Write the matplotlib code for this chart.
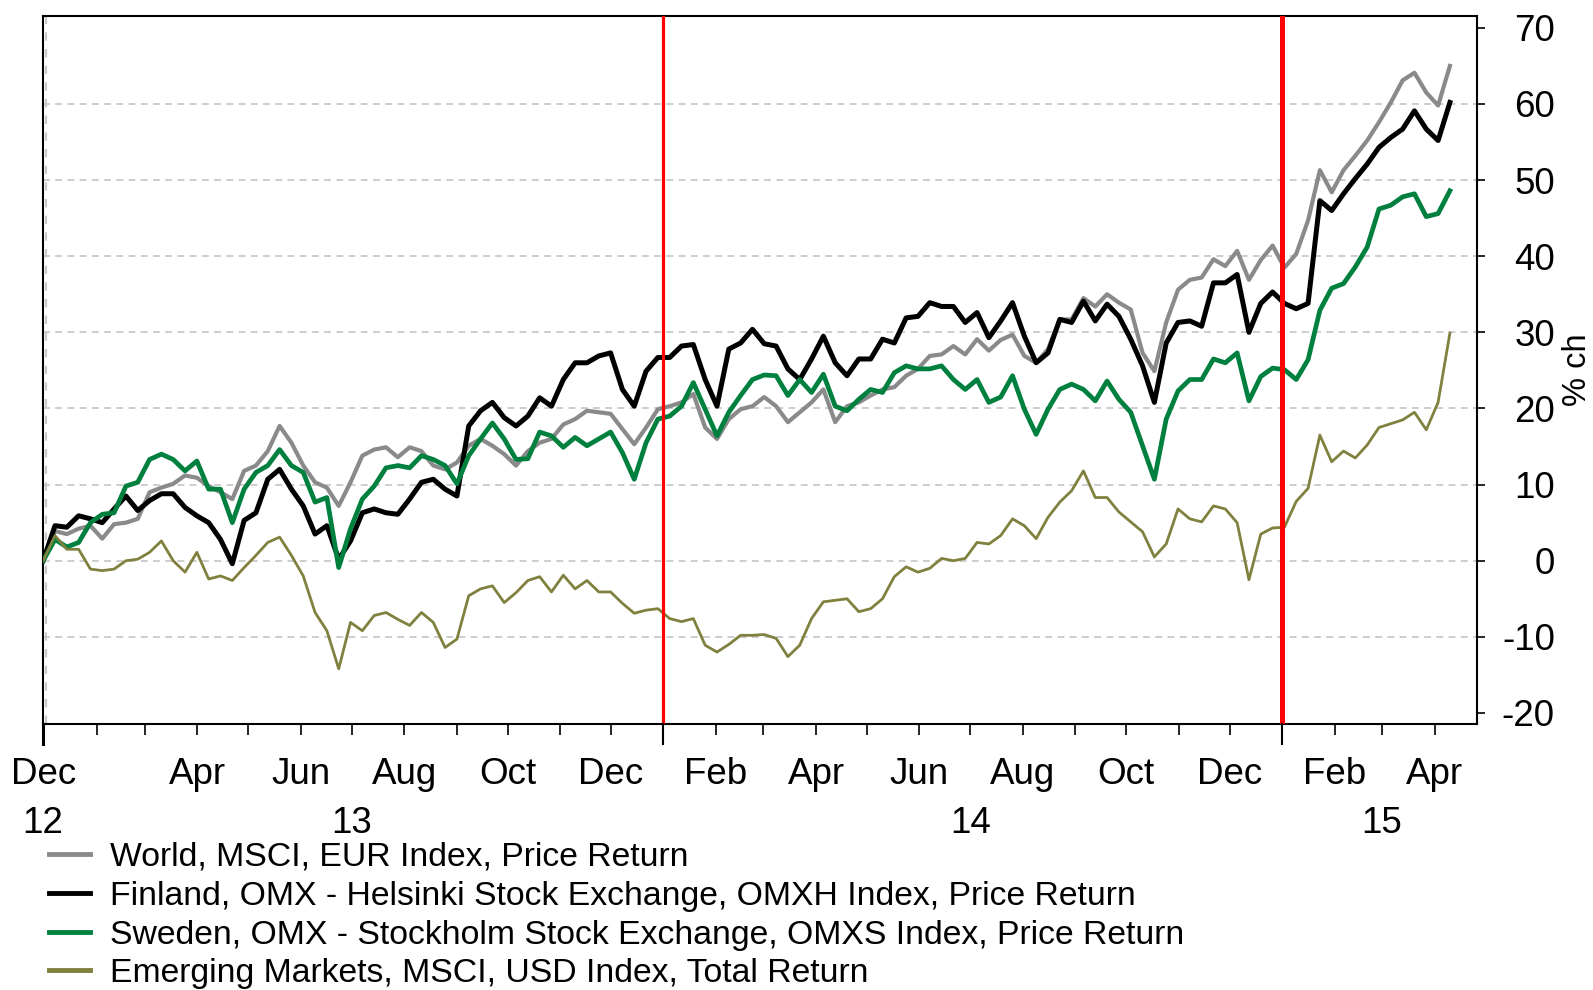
import pandas as pd
import matplotlib
matplotlib.use('Agg')
import matplotlib.pyplot as plt
from matplotlib.transforms import blended_transform_factory

plt.rcParams['font.family'] = ['Liberation Sans', 'DejaVu Sans']

# % change since start, read off the chart roughly once a week
world = [0, 3.9, 3.5, 4.2, 4.6, 2.9, 4.8, 5.0, 5.5, 9.0,
         9.6, 10.1, 11.2, 10.9, 9.8, 9.0, 8.1, 11.8, 12.5, 14.4,
         17.7, 15.5, 12.5, 10.3, 9.6, 7.2, 10.3, 13.8, 14.6, 14.9,
         13.6, 14.9, 14.4, 12.5, 12.0, 12.9, 15.1, 16.0, 15.1, 14.0,
         12.5, 14.4, 15.5, 16.0, 17.9, 18.6, 19.7, 19.5, 19.3, 17.3,
         15.3, 17.5, 19.9, 20.3, 20.8, 21.9, 17.5, 16.0, 18.6, 19.9,
         20.3, 21.5, 20.3, 18.2, 19.5, 20.8, 22.5, 18.2, 20.3, 20.8,
         21.7, 22.5, 22.8, 24.3, 25.2, 26.9, 27.1, 28.2, 27.1, 29.1,
         27.6, 29.0, 29.7, 26.9, 26.0, 27.8, 31.7, 31.7, 34.5, 33.4,
         35.0, 33.9, 33.0, 27.3, 24.9, 31.3, 35.6, 36.9, 37.2, 39.6,
         38.7, 40.7, 36.9, 39.5, 41.4, 38.5, 40.3, 44.7, 51.3, 48.4,
         51.3, 53.2, 55.2, 57.6, 60.2, 63.1, 64.1, 61.5, 59.8, 65.0]

finland = [0, 4.6, 4.4, 5.9, 5.5, 5.0, 6.8, 8.5, 6.6, 7.9,
           8.8, 8.8, 7.0, 5.9, 5.0, 2.8, -0.4, 5.3, 6.3, 10.7,
           12.0, 9.4, 7.2, 3.5, 4.6, 0.2, 2.6, 6.3, 6.8, 6.3,
           6.1, 8.1, 10.3, 10.7, 9.4, 8.5, 17.7, 19.7, 20.8, 18.8,
           17.7, 19.0, 21.4, 20.3, 23.8, 26.0, 26.0, 26.9, 27.3, 22.5,
           20.3, 24.9, 26.7, 26.7, 28.2, 28.4, 23.8, 20.3, 27.8, 28.6,
           30.4, 28.5, 28.2, 25.2, 23.8, 26.5, 29.5, 26.0, 24.3, 26.5,
           26.5, 29.1, 28.6, 31.9, 32.1, 33.9, 33.4, 33.4, 31.3, 32.6,
           29.3, 31.5, 33.9, 29.5, 26.0, 27.3, 31.7, 31.3, 34.1, 31.5,
           33.7, 32.1, 29.1, 25.6, 20.8, 28.6, 31.3, 31.5, 30.8, 36.5,
           36.5, 37.6, 30.0, 33.8, 35.3, 33.8, 33.1, 33.8, 47.3, 46.0,
           48.2, 50.2, 52.1, 54.3, 55.6, 56.7, 59.1, 56.7, 55.2, 60.2]

sweden = [0, 2.8, 1.8, 2.4, 5.0, 6.1, 6.3, 9.8, 10.3, 13.3,
          14.0, 13.3, 11.8, 13.1, 9.4, 9.4, 5.0, 9.4, 11.6, 12.5,
          14.6, 12.5, 11.6, 7.7, 8.3, -0.9, 4.2, 8.1, 9.8, 12.2,
          12.5, 12.2, 13.8, 13.3, 12.5, 10.1, 13.8, 16.0, 18.1, 16.0,
          13.3, 13.4, 16.9, 16.4, 14.9, 16.2, 15.1, 16.0, 16.9, 14.2,
          10.7, 15.5, 18.6, 19.0, 20.3, 23.4, 19.9, 16.4, 19.5, 21.7,
          23.8, 24.4, 24.3, 21.7, 23.8, 22.1, 24.5, 20.3, 19.7, 21.2,
          22.5, 22.1, 24.7, 25.6, 25.2, 25.2, 25.6, 23.8, 22.5, 23.8,
          20.8, 21.5, 24.3, 19.9, 16.6, 19.9, 22.5, 23.2, 22.5, 21.0,
          23.6, 21.2, 19.5, 15.1, 10.7, 18.6, 22.3, 23.8, 23.8, 26.5,
          26.0, 27.3, 21.0, 24.2, 25.3, 25.1, 23.8, 26.4, 32.9, 35.8,
          36.4, 38.6, 41.2, 46.2, 46.7, 47.8, 48.2, 45.2, 45.6, 48.6]

emerging = [0, 3.3, 1.5, 1.5, -1.1, -1.3, -1.1, 0.0, 0.2, 1.1,
            2.6, 0.0, -1.5, 1.1, -2.4, -2.0, -2.6, -0.9, 0.7, 2.4,
            3.1, 0.7, -2.0, -6.8, -9.2, -14.2, -8.1, -9.2, -7.2, -6.8,
            -7.7, -8.5, -6.8, -8.1, -11.4, -10.3, -4.6, -3.7, -3.3, -5.5,
            -4.2, -2.6, -2.1, -4.1, -1.9, -3.7, -2.6, -4.1, -4.1, -5.6,
            -6.9, -6.5, -6.3, -7.6, -8.0, -7.6, -11.1, -12.0, -11.0, -9.8,
            -9.8, -9.7, -10.2, -12.6, -11.1, -7.6, -5.4, -5.2, -5.0, -6.7,
            -6.3, -5.0, -2.1, -0.8, -1.5, -1.0, 0.3, 0.0, 0.3, 2.4,
            2.2, 3.3, 5.5, 4.6, 2.9, 5.7, 7.7, 9.2, 11.8, 8.3,
            8.3, 6.4, 5.1, 3.8, 0.5, 2.2, 6.8, 5.5, 5.1, 7.2,
            6.8, 5.0, -2.5, 3.5, 4.3, 4.4, 7.8, 9.5, 16.5, 13.0,
            14.4, 13.5, 15.2, 17.5, 18.0, 18.5, 19.5, 17.2, 20.8, 29.9]

dates = pd.date_range('2012-12-31', '2015-04-10', periods=len(world))

series = [world, finland, sweden, emerging]
labels = ['World, MSCI, EUR Index, Price Return',
          'Finland, OMX - Helsinki Stock Exchange, OMXH Index, Price Return',
          'Sweden, OMX - Stockholm Stock Exchange, OMXS Index, Price Return',
          'Emerging Markets, MSCI, USD Index, Total Return']
colors = ['#8a8a8a', '#000000', '#00803f', '#80803f']
widths = [3.0, 3.6, 3.4, 2.0]

month_ticks = ['2012-12-31', '2013-04-01', '2013-06-01', '2013-08-01', '2013-10-01',
               '2013-12-01', '2014-02-01', '2014-04-01', '2014-06-01', '2014-08-01',
               '2014-10-01', '2014-12-01', '2015-02-01', '2015-04-01']
month_labels = ['Dec', 'Apr', 'Jun', 'Aug', 'Oct', 'Dec', 'Feb', 'Apr', 'Jun', 'Aug',
                'Oct', 'Dec', 'Feb', 'Apr']
year_pos = ['2012-12-31', '2013-07-01', '2014-07-01', '2015-03-01']
year_labels = ['12', '13', '14', '15']
year_starts = ['2012-12-31', '2014-01-01', '2015-01-01']
event_dates = ['2014-01-01', '2015-01-01']
event_widths = [2.3, 3.6]

y_ticks = list(range(-20, 71, 10))
grid_levels = list(range(-10, 61, 10))

fig = plt.figure(figsize=(15.93, 9.9), dpi=100)
ax = fig.add_axes([0.0271, 0.2683, 0.9001, 0.7151])

for lvl in grid_levels:
    ax.axhline(lvl, color='#c0c0c0', lw=1.1, dashes=(4.5, 3.5), zorder=1)
ax.axvline(pd.Timestamp('2012-12-31') + pd.Timedelta(days=1.5), color='#c8c8c8',
           lw=1.5, dashes=(4, 4), zorder=1)

for vals, lab, c, w in zip(series, labels, colors, widths):
    ax.plot(dates, vals, color=c, lw=w, label=lab, zorder=3)

for d, w in zip(event_dates, event_widths):
    ax.axvline(pd.Timestamp(d), color='#ff0000', lw=w, zorder=4)

ax.set_xlim(pd.Timestamp('2012-12-31'), pd.Timestamp('2015-04-26'))
ax.set_ylim(-21.5, 71.5)

for s in ax.spines.values():
    s.set_linewidth(1.5)
    s.set_color('black')

# y axis on the right
ax.yaxis.tick_right()
ax.set_yticks(y_ticks)
ax.set_yticklabels([str(v) for v in y_ticks], ha='right')
ax.tick_params(axis='y', direction='out', length=6, width=1.2, labelsize=26.5, pad=50)

# monthly minor ticks, labelled months as majors
months = pd.date_range('2013-02-01', '2015-04-01', freq='MS')
ax.set_xticks(months, minor=True)
ax.set_xticks([pd.Timestamp(d) for d in month_ticks])
ax.set_xticklabels(month_labels)
ax.tick_params(axis='x', which='both', direction='out', length=8, width=1.2)
ax.tick_params(axis='x', which='major', labelsize=26.5, pad=15.5)

# longer ticks at year boundaries
tr = blended_transform_factory(ax.transData, ax.transAxes)
for d in year_starts:
    ax.plot([pd.Timestamp(d)] * 2, [0, -0.028], transform=tr, color='black',
            lw=1.5 if d != year_starts[0] else 2.2, clip_on=False, zorder=5)

for d, t in zip(year_pos, year_labels):
    ax.text(pd.Timestamp(d), -0.153, t, transform=tr, ha='center', va='baseline',
            fontsize=26.5)

fig.text(1578 / 1593, 1 - 370 / 990, '% ch', rotation=90, ha='center', va='center',
         fontsize=23.5)

leg = fig.legend(loc='upper left', bbox_to_anchor=(49 / 1593, 1 - 842 / 990),
                 frameon=False, fontsize=24.3, handlelength=1.22, handletextpad=0.6,
                 labelspacing=0.23, borderpad=0, borderaxespad=0)
for h in leg.get_lines():
    h.set_linewidth(3.5)

fig.savefig('out.png', dpi=100)
